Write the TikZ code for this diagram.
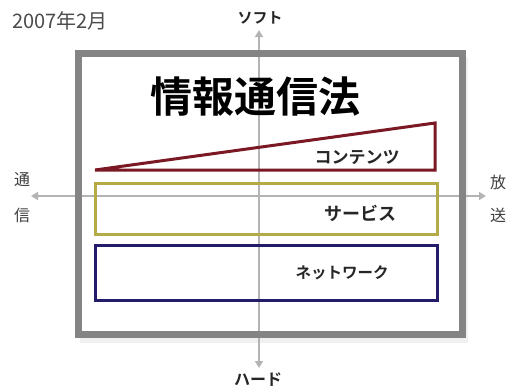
\documentclass[tikz,border=0pt]{standalone}
\usepackage{fontspec}
\newfontfamily\jp{Noto Sans CJK JP}
\newfontfamily\jpb{Noto Sans CJK JP Bold}
\usetikzlibrary{arrows.meta}
\definecolor{framegray}{HTML}{848484}
\definecolor{axisgray}{HTML}{B4B4B4}
\definecolor{redc}{HTML}{7A1824}
\definecolor{yelc}{HTML}{B5AA48}
\definecolor{bluec}{HTML}{221C6A}
\tikzset{
  axis/.style={draw=axisgray, line width=1.8pt, -{Triangle[length=7pt,width=8pt]}},
  label/.style={font=\jpb\fontsize{15}{16}\selectfont, text=black!85, inner sep=0pt},
  side/.style={font=\jp\fontsize{16}{18}\selectfont, text=black!75, inner sep=0pt},
}
\begin{document}
\begin{tikzpicture}[x=1pt,y=-1pt]
\useasboundingbox (0,0) rectangle (512,388);
\fill[white] (0,0) rectangle (512,388);
% shadow of frame
\fill[black!6] (80,57) rectangle (468,343);
% frame
\draw[framegray, line width=7pt, fill=white] (78,53.5) rectangle (462.5,334);
% axes
\coordinate (c) at (259,196);
\coordinate (top) at (259,30);
\coordinate (bot) at (259,368);
\coordinate (lft) at (31,196);
\coordinate (rgt) at (486,196);
\draw[axis] (c) -- (top);
\draw[axis] (c) -- (bot);
\draw[axis] (c) -- (lft);
\draw[axis] (c) -- (rgt);
% re-draw frame lines over axes
\draw[framegray, line width=7pt] (78,53.5) rectangle (462.5,334);
\draw[axisgray, line width=1.5pt] (259,57) -- (259,330.5);
\draw[axisgray, line width=1.5pt] (81.5,196) -- (459,196);
% title
\node[font=\jpb\fontsize{42}{44}\selectfont, inner sep=0pt] (title) at (255,97) {情報通信法};
% contents triangle
\coordinate (t1) at (95,170);
\coordinate (t2) at (435,123);
\coordinate (t3) at (435,170);
\draw[redc, line width=3pt, line join=miter] (t1) -- (t2) -- (t3) -- cycle;
% service box
\draw[yelc, line width=3pt] (95,183) rectangle (437,234);
% network box
\draw[bluec, line width=3pt] (95,245) rectangle (437,300);
% labels
\node[label, font=\jpb\fontsize{17}{18}\selectfont] (cont) at (357,157) {コンテンツ};
\node[label, font=\jpb\fontsize{18}{18}\selectfont] (serv) at (360,213) {サービス};
\node[label, font=\jpb\fontsize{15.5}{16}\selectfont] (net) at (342,273) {ネットワーク};
\node[label, font=\jpb\fontsize{15}{16}\selectfont] (soft) at (260,18) {ソフト};
\node[label, font=\jpb\fontsize{16}{16}\selectfont] (hard) at (258,380) {ハード};
\node[side] (tsu1) at (22,180) {通};
\node[side] (tsu2) at (22,215) {信};
\node[side] (hou1) at (498,182) {放};
\node[side] (hou2) at (498,215) {送};
\node[font=\jp\fontsize{20}{22}\selectfont, text=black!70, anchor=west, inner sep=0pt] (date) at (12,21) {2007年2月};
\end{tikzpicture}
\end{document}
